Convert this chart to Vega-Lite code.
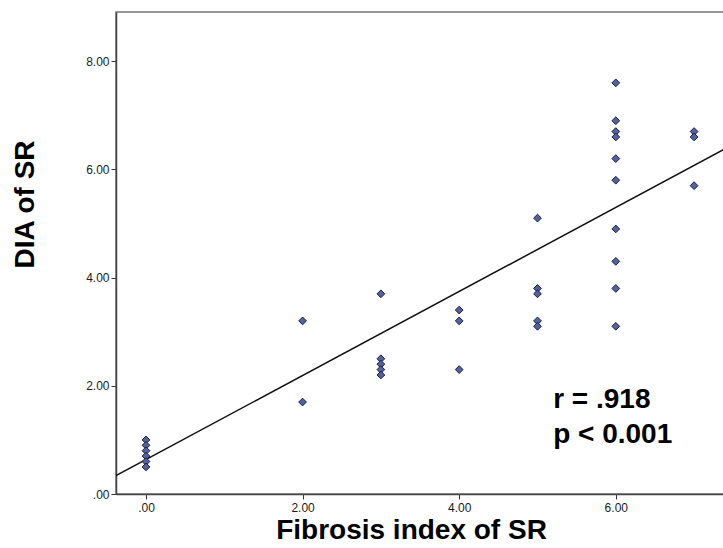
{
  "$schema": "https://vega.github.io/schema/vega-lite/v6.json",
  "autosize": {"type": "none"},
  "padding": {"left": 116, "top": 12, "right": 0, "bottom": 54},
  "width": 608,
  "height": 482,
  "background": "white",
  "config": {
    "view": {"stroke": "#777777", "strokeWidth": 1.5},
    "font": "Liberation Sans",
    "axis": {
      "grid": false,
      "domainColor": "#444444",
      "domainWidth": 1.5,
      "tickColor": "#333333",
      "tickSize": 5,
      "labelFont": "Liberation Sans",
      "labelFontSize": 12,
      "labelColor": "#1a1a1a",
      "titleFont": "Liberation Sans",
      "titleFontSize": 28,
      "titleFontWeight": "bold",
      "titleColor": "#000000"
    }
  },
  "datasets": {
    "pts": [
      {"fi": 0, "dia": 1.0}, {"fi": 0, "dia": 0.9}, {"fi": 0, "dia": 0.8}, {"fi": 0, "dia": 0.7}, {"fi": 0, "dia": 0.6}, {"fi": 0, "dia": 0.5},
      {"fi": 2, "dia": 3.2}, {"fi": 2, "dia": 1.7},
      {"fi": 3, "dia": 3.7}, {"fi": 3, "dia": 2.5}, {"fi": 3, "dia": 2.4}, {"fi": 3, "dia": 2.3}, {"fi": 3, "dia": 2.2},
      {"fi": 4, "dia": 3.4}, {"fi": 4, "dia": 3.2}, {"fi": 4, "dia": 2.3},
      {"fi": 5, "dia": 5.1}, {"fi": 5, "dia": 3.8}, {"fi": 5, "dia": 3.7}, {"fi": 5, "dia": 3.2}, {"fi": 5, "dia": 3.1},
      {"fi": 6, "dia": 7.6}, {"fi": 6, "dia": 6.9}, {"fi": 6, "dia": 6.7}, {"fi": 6, "dia": 6.6}, {"fi": 6, "dia": 6.2}, {"fi": 6, "dia": 5.8}, {"fi": 6, "dia": 4.9}, {"fi": 6, "dia": 4.3}, {"fi": 6, "dia": 3.8}, {"fi": 6, "dia": 3.1},
      {"fi": 7, "dia": 6.7}, {"fi": 7, "dia": 6.6}, {"fi": 7, "dia": 5.7}
    ],
    "fit": [
      {"fi": -0.383, "dia": 0.34},
      {"fi": 7.382, "dia": 6.37}
    ],
    "notes": [
      {"fi": 5.2, "dia": 1.59, "label": "r = .918"},
      {"fi": 5.2, "dia": 0.94, "label": "p < 0.001"}
    ]
  },
  "encoding": {
    "x": {
      "field": "fi", "type": "quantitative",
      "scale": {"domain": [-0.383, 7.382], "nice": false, "zero": false},
      "axis": {
        "title": "Fibrosis index of SR",
        "values": [0, 2, 4, 6],
        "labelExpr": "datum.value == 0 ? '.00' : format(datum.value, '.2f')",
        "titleX": 295,
        "titleY": 44,
        "titleBaseline": "alphabetic",
        "labelPadding": 3
      }
    },
    "y": {
      "field": "dia", "type": "quantitative",
      "scale": {"domain": [0, 8.91], "nice": false},
      "axis": {
        "title": "DIA of SR",
        "values": [0, 2, 4, 6, 8],
        "labelExpr": "datum.value == 0 ? '.00' : format(datum.value, '.2f')",
        "titleX": -83,
        "titleY": 192,
        "titleAngle": -90,
        "titleAlign": "center",
        "titleBaseline": "alphabetic",
        "labelPadding": 2
      }
    }
  },
  "layer": [
    {
      "data": {"name": "fit"},
      "mark": {"type": "line", "color": "#111111", "strokeWidth": 1.5, "clip": true},
      "encoding": {}
    },
    {
      "data": {"name": "pts"},
      "mark": {"type": "point", "shape": "diamond", "filled": true, "size": 60, "fill": "#5161a3", "stroke": "#1c1f3a", "strokeWidth": 1, "opacity": 1}
    },
    {
      "data": {"name": "notes"},
      "mark": {"type": "text", "align": "left", "baseline": "alphabetic", "font": "Liberation Sans", "fontWeight": "bold", "fontSize": 28, "color": "#000000"},
      "encoding": {"text": {"field": "label"}}
    }
  ]
}
